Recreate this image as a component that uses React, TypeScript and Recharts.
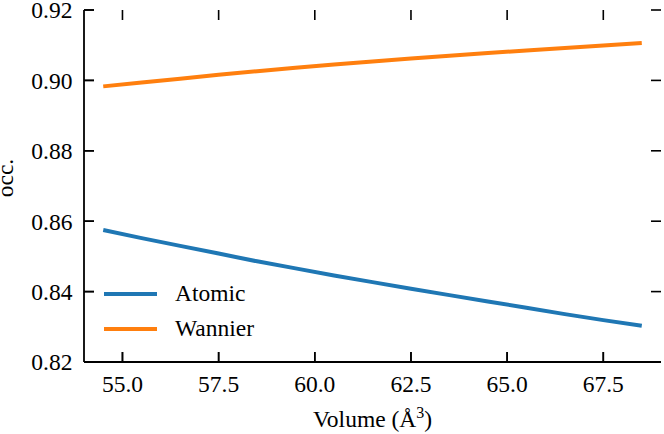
import React from 'react';
import { LineChart, Line, XAxis, YAxis, Legend, ReferenceLine } from 'recharts';

const volumes = [54.5, 55.5, 56.5, 57.5, 58.5, 59.5, 60.5, 61.5, 62.5, 63.5, 64.5, 65.5, 66.5, 67.5, 68.5];
const atomic = [0.8575, 0.8552, 0.8530, 0.8508, 0.8486, 0.8466, 0.8446, 0.8427, 0.8408, 0.8390, 0.8372, 0.8354, 0.8336, 0.8319, 0.8303];
const wannier = [0.8983, 0.8994, 0.9005, 0.9016, 0.9026, 0.9036, 0.9045, 0.9054, 0.9062, 0.9070, 0.9078, 0.9085, 0.9092, 0.9099, 0.9106];
const xTicks = [55, 57.5, 60, 62.5, 65, 67.5];
const yTicks = [0.82, 0.84, 0.86, 0.88, 0.9, 0.92];
const xDomain = [54, 69];
const yDomain = [0.82, 0.92];

const data = volumes.map((v, i) => ({ v, atomic: atomic[i], wannier: wannier[i] }));

const FONT = '"Liberation Serif", "Times New Roman", serif';
const FS = 23.5;
const BLUE = '#1f77b4';
const ORANGE = '#ff7f0e';
const X_MARGIN = 13;
const Y_MARGIN = 11.6;
const X_TICK_UNITS = 0.26;
const Y_TICK_UNITS = 0.00284;

const axisLine = { stroke: '#000', strokeWidth: 1.8 };
const tickStroke = { stroke: '#000', strokeWidth: 1.6 };

const BottomTick = (props: any) => {
  const { x, y, payload } = props;
  return (
    <text x={x} y={y} dy="0.71em" textAnchor="middle" fill="#000" fontSize={FS} fontFamily={FONT}>
      {Number(payload.value).toFixed(1)}
    </text>
  );
};

const LeftTick = (props: any) => {
  const { x, y, payload } = props;
  return (
    <text x={x} y={y} dy="0.355em" textAnchor="end" fill="#000" fontSize={FS} fontFamily={FONT}>
      {Number(payload.value).toFixed(2)}
    </text>
  );
};

// draws the tick mark again from the reference line's own box (label layer)
const TickMark = (props: any) => {
  const vb = props.viewBox || {};
  if (vb.x == null || vb.y == null) return null;
  return (
    <line
      x1={vb.x}
      y1={vb.y}
      x2={vb.x + (vb.width || 0)}
      y2={vb.y + (vb.height || 0)}
      stroke="#000"
      strokeWidth={1.6}
    />
  );
};

const XLabel = (props: any) => {
  const vb = props.viewBox || {};
  return (
    <text x={vb.x + vb.width / 2} y={vb.y + 65} textAnchor="middle" fill="#000" fontSize={FS} fontFamily={FONT}>
      Volume (Å<tspan dy={-9} fontSize={16}>3</tspan><tspan dy={9}>)</tspan>
    </text>
  );
};

const YLabel = (props: any) => {
  const vb = props.viewBox || {};
  const cx = 13;
  const cy = vb.y + vb.height / 2 - 8;
  return (
    <text x={cx} y={cy} transform={`rotate(-90, ${cx}, ${cy})`} textAnchor="middle" fill="#000" fontSize={FS} fontFamily={FONT}>
      occ.
    </text>
  );
};

const LegendContent = (props: any) => {
  const payload = props.payload || [];
  return (
    <div style={{ fontFamily: FONT, fontSize: FS, color: '#000', lineHeight: '35px' }}>
      {payload.map((p: any) => (
        <div key={p.value} style={{ display: 'flex', alignItems: 'center', height: 35 }}>
          <svg width={53} height={6} style={{ marginRight: 18, display: 'block' }}>
            <line x1={0} y1={3} x2={53} y2={3} stroke={p.color} strokeWidth={4} />
          </svg>
          <span style={{ fontFamily: FONT }}>{p.value}</span>
        </div>
      ))}
    </div>
  );
};

export default function App() {
  return (
    <div style={{ position: 'absolute', left: 0, top: 0, width: 664, height: 434, background: '#fff', fontFamily: FONT }}>
      <LineChart width={664} height={434} data={data} margin={{ top: 10, right: 3, left: 0, bottom: 0 }}>
        <XAxis
          dataKey="v"
          type="number"
          domain={xDomain}
          ticks={xTicks}
          allowDataOverflow
          height={72}
          axisLine={axisLine}
          tickLine={false}
          tickSize={0}
          tickMargin={X_MARGIN}
          tick={<BottomTick />}
          interval={0}
          label={<XLabel />}
        />
        <XAxis
          xAxisId="top"
          orientation="top"
          dataKey="v"
          type="number"
          domain={xDomain}
          ticks={xTicks}
          allowDataOverflow
          height={0}
          axisLine={axisLine}
          tickLine={false}
          tick={false}
        />
        <YAxis
          type="number"
          domain={yDomain}
          ticks={yTicks}
          allowDataOverflow
          width={84}
          axisLine={axisLine}
          tickLine={false}
          tickSize={0}
          tickMargin={Y_MARGIN}
          interval={0}
          tick={<LeftTick />}
          label={<YLabel />}
        />
        <YAxis
          yAxisId="right"
          orientation="right"
          type="number"
          domain={yDomain}
          ticks={yTicks}
          allowDataOverflow
          width={0}
          axisLine={axisLine}
          tickLine={false}
          tick={false}
        />
        {xTicks.map((t) => (
          <ReferenceLine
            key={`xb${t}`}
            segment={[{ x: t, y: yDomain[0] + Y_TICK_UNITS }, { x: t, y: yDomain[0] }]}
            {...tickStroke}
            ifOverflow="visible"
            zIndex={2500}
            label={<TickMark />}
          />
        ))}
        {xTicks.map((t) => (
          <ReferenceLine
            key={`xt${t}`}
            segment={[{ x: t, y: yDomain[1] }, { x: t, y: yDomain[1] - Y_TICK_UNITS }]}
            {...tickStroke}
            ifOverflow="visible"
          />
        ))}
        {yTicks.map((t) => (
          <ReferenceLine
            key={`yl${t}`}
            segment={[{ x: xDomain[0] + X_TICK_UNITS, y: t }, { x: xDomain[0], y: t }]}
            {...tickStroke}
            ifOverflow="visible"
            zIndex={2500}
            label={<TickMark />}
          />
        ))}
        {yTicks.map((t) => (
          <ReferenceLine
            key={`yr${t}`}
            segment={[{ x: xDomain[1], y: t }, { x: xDomain[1] - X_TICK_UNITS, y: t }]}
            {...tickStroke}
            ifOverflow="visible"
          />
        ))}
        <Legend
          layout="vertical"
          align="center"
          verticalAlign="middle"
          wrapperStyle={{ left: 104, top: 276, width: 'auto' }}
          content={<LegendContent />}
        />
        <Line dataKey="atomic" name="Atomic" stroke={BLUE} strokeWidth={4} dot={false} isAnimationActive={false} />
        <Line dataKey="wannier" name="Wannier" stroke={ORANGE} strokeWidth={4} dot={false} isAnimationActive={false} />
      </LineChart>
    </div>
  );
}
